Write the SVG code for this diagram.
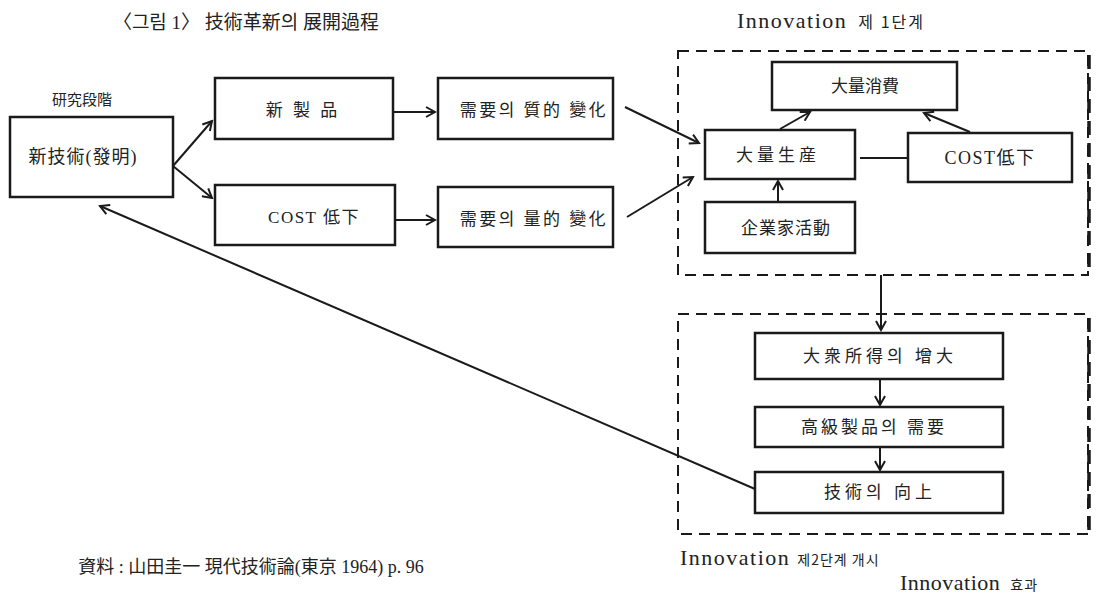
<svg xmlns="http://www.w3.org/2000/svg" width="1099" height="597" viewBox="0 0 1099 597">
<style>
.box{fill:none;stroke:#1a1a1a;stroke-width:2.5}
.dash{fill:none;stroke:#1a1a1a;stroke-width:2;stroke-dasharray:11 7}
.edge{fill:none;stroke:#1a1a1a;stroke-width:3.5;stroke-dasharray:14 8}
.ln{fill:none;stroke:#1a1a1a;stroke-width:2}
.t{font-family:"Liberation Serif","Noto Sans CJK KR",serif;fill:#222;text-anchor:middle}
.s{font-size:17px}
.inn{font-family:"Liberation Serif",serif;font-size:22px;letter-spacing:1.5px;fill:#222}
.kr{font-family:"Noto Sans CJK KR",sans-serif;font-size:14px;letter-spacing:1px}
</style>
<defs>
<marker id="ah" viewBox="0 0 12 12" refX="10" refY="6" markerWidth="12" markerHeight="12" markerUnits="userSpaceOnUse" orient="auto">
<path d="M1,1 L10,6 L1,11" fill="none" stroke="#1a1a1a" stroke-width="2"/>
</marker>
</defs>
<rect width="1099" height="597" fill="#fff"/>

<g id="title"><text class="t" x="246" y="29" font-size="19">〈그림 1〉 技術革新의 展開過程</text></g>
<g id="label-research"><text class="t" x="82" y="105" font-size="15">研究段階</text></g>

<g id="stage1-frame"><rect class="dash" x="678" y="51" width="410" height="224"/><line class="edge" x1="1089" y1="55" x2="1089" y2="272"/></g>
<g id="stage2-frame"><rect class="dash" x="678" y="314" width="410" height="220"/><line class="edge" x1="1089" y1="318" x2="1089" y2="530"/></g>

<g id="n-newtech"><rect class="box" x="10" y="117" width="163" height="80"/><text class="t" x="83" y="163" font-size="18" letter-spacing="1">新技術(發明)</text></g>
<g id="n-newproduct"><rect class="box" x="215" y="78" width="178" height="61"/><text class="t s" x="303" y="116" letter-spacing="3">新 製 品</text></g>
<g id="n-costdown1"><rect class="box" x="215" y="185" width="180" height="60"/><text class="t s" x="314" y="223" letter-spacing="1.5">COST 低下</text></g>
<g id="n-qual"><rect class="box" x="438" y="78" width="175" height="61"/><text class="t s" x="534" y="116" letter-spacing="2.5">需要의 質的 變化</text></g>
<g id="n-quant"><rect class="box" x="438" y="187" width="175" height="60"/><text class="t s" x="534" y="225" letter-spacing="2.5">需要의 量的 變化</text></g>

<g id="label-stage1"><text class="inn" x="737" y="28">Innovation <tspan class="kr" style="font-size:16px;letter-spacing:2px" dx="4">제 1단계</tspan></text></g>
<g id="n-massconsume"><rect class="box" x="772" y="62" width="185" height="48"/><text class="t s" x="865" y="92">大量消費</text></g>
<g id="n-massprod"><rect class="box" x="705" y="130" width="150" height="49"/><text class="t s" x="778" y="161" letter-spacing="4">大量生産</text></g>
<g id="n-costdown2"><rect class="box" x="908" y="133" width="164" height="49"/><text class="t" x="990" y="164" font-size="18" letter-spacing="1.5">COST低下</text></g>
<g id="n-entre"><rect class="box" x="705" y="202" width="150" height="51"/><text class="t s" x="786" y="234" letter-spacing="1">企業家活動</text></g>

<g id="n-income"><rect class="box" x="755" y="333" width="248" height="46"/><text class="t s" x="880" y="362" letter-spacing="4">大衆所得의 增大</text></g>
<g id="n-highgrade"><rect class="box" x="755" y="407" width="248" height="40"/><text class="t s" x="874" y="433" letter-spacing="3">高級製品의 需要</text></g>
<g id="n-techup"><rect class="box" x="755" y="472" width="248" height="41"/><text class="t s" x="880" y="498" letter-spacing="4">技術의 向上</text></g>

<g id="label-stage2"><text class="inn" x="680" y="565">Innovation <tspan class="kr">제2단계 개시</tspan></text></g>
<g id="label-effect"><text class="inn" x="900" y="590" style="letter-spacing:0.5px">Innovation <tspan class="kr" dx="4">효과</tspan></text></g>
<g id="source"><text class="t" x="251" y="573" font-size="18">資料 : 山田圭一 現代技術論(東京 1964) p. 96</text></g>

<g id="connectors">
<line class="ln" x1="173" y1="166" x2="212" y2="121" marker-end="url(#ah)"/>
<line class="ln" x1="173" y1="166" x2="212" y2="198" marker-end="url(#ah)"/>
<line class="ln" x1="393" y1="112" x2="435" y2="112" marker-end="url(#ah)"/>
<line class="ln" x1="395" y1="220" x2="435" y2="220" marker-end="url(#ah)"/>
<line class="ln" x1="625" y1="107" x2="699" y2="143" marker-end="url(#ah)"/>
<line class="ln" x1="627" y1="217" x2="693" y2="177" marker-end="url(#ah)"/>
<line class="ln" x1="780" y1="129" x2="810" y2="112" marker-end="url(#ah)"/>
<line class="ln" x1="970" y1="132" x2="924" y2="113" marker-end="url(#ah)"/>
<line class="ln" x1="860" y1="158" x2="908" y2="158"/>
<line class="ln" x1="778" y1="202" x2="778" y2="181" marker-end="url(#ah)"/>
<line class="ln" x1="881" y1="275" x2="881" y2="330" marker-end="url(#ah)"/>
<line class="ln" x1="880" y1="380" x2="880" y2="405" marker-end="url(#ah)"/>
<line class="ln" x1="880" y1="448" x2="880" y2="470" marker-end="url(#ah)"/>
<line class="ln" x1="755" y1="489" x2="100" y2="206" marker-end="url(#ah)"/>
</g>
</svg>
